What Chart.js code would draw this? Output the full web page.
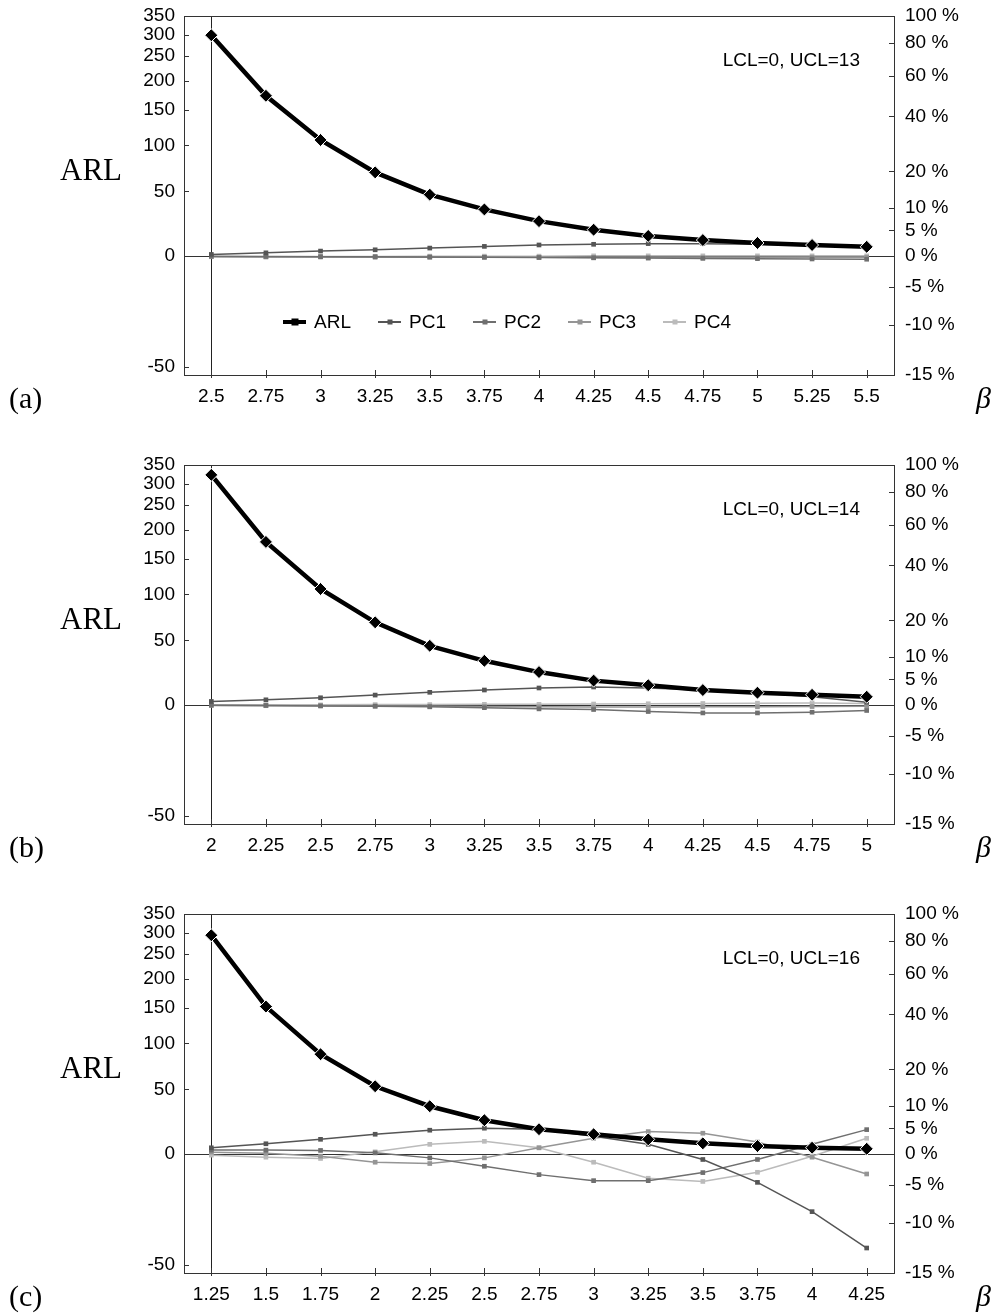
<!DOCTYPE html>
<html>
<head>
<meta charset="utf-8">
<script src="https://cdn.jsdelivr.net/npm/chart.js@4/dist/chart.umd.min.js"></script>
<style>
  body { margin:0; background:#fff; width:1000px; height:1316px; overflow:hidden; position:relative; font-family:"Liberation Sans", Arial, sans-serif; color:#000; }
  .panel { position:absolute; left:0; width:1000px; height:418px; }
  .panel canvas { position:absolute; left:0; top:0; }
  .arl { position:absolute; left:60px; top:152px; font:31px "Liberation Serif", serif; }
  .tag { position:absolute; left:9px; top:381px; font:30px "Liberation Serif", serif; }
  .beta { position:absolute; left:976px; top:381px; font:italic 30px "Liberation Serif", serif; }
  .lcl { position:absolute; right:140px; top:49px; font-size:19px; }
  .legend { position:absolute; left:283px; top:311px; display:flex; font-size:19px; line-height:22px; }
  .legend .item { width:95px; display:flex; align-items:center; }
  .legend .sample { position:relative; width:23px; height:22px; margin-right:8px; }
  .legend .sample i { position:absolute; left:0; right:0; top:50%; }
  .legend .sample b { position:absolute; left:50%; top:50%; transform:translate(-50%,-50%); }
</style>
</head>
<body>
<div class="panel" style="top:0px">
  <canvas id="chartA" width="1000" height="418"></canvas>
  <div class="arl">ARL</div><div class="tag">(a)</div><div class="beta">β</div>
  <div class="lcl">LCL=0, UCL=13</div>
  <div class="legend" id="legendA"></div>
</div>
<div class="panel" style="top:449px">
  <canvas id="chartB" width="1000" height="418"></canvas>
  <div class="arl">ARL</div><div class="tag">(b)</div><div class="beta">β</div>
  <div class="lcl">LCL=0, UCL=14</div>
</div>
<div class="panel" style="top:898px">
  <canvas id="chartC" width="1000" height="418"></canvas>
  <div class="arl">ARL</div><div class="tag">(c)</div><div class="beta">β</div>
  <div class="lcl">LCL=0, UCL=16</div>
</div>
<script>
// values
const betaA = ['2.5','2.75','3','3.25','3.5','3.75','4','4.25','4.5','4.75','5','5.25','5.5'];
const arlA = [299, 173, 107, 69, 47, 34, 24.5, 18, 13.5, 10.6, 8.6, 7.2, 6];
const pc1A = [0.31, 0.6, 0.92, 1.16, 1.48, 1.8, 2.07, 2.2, 2.33, 2.33, 2.2, 2.0, 1.75];
const pc2A = [0, -0.05, -0.1, -0.1, -0.15, -0.2, -0.25, -0.3, -0.35, -0.4, -0.45, -0.5, -0.55];
const pc3A = [-0.1, -0.15, -0.15, -0.2, -0.2, -0.2, -0.2, -0.25, -0.25, -0.25, -0.25, -0.2, -0.2];
const pc4A = [-0.1, -0.1, -0.05, -0.05, 0, 0, 0, 0.05, 0.05, 0.05, 0.05, 0.05, 0.05];

const betaB = ['2','2.25','2.5','2.75','3','3.25','3.5','3.75','4','4.25','4.5','4.75','5'];
const arlB = [323, 178, 107, 68, 45, 32, 23, 16.6, 13.3, 9.9, 8.1, 6.7, 5.4];
const pc1B = [0.67, 0.97, 1.35, 1.86, 2.39, 2.84, 3.24, 3.44, 3.24, 2.84, 2.31, 1.53, 0.54];
const pc2B = [0, -0.05, -0.15, -0.2, -0.3, -0.45, -0.66, -0.77, -1.12, -1.36, -1.36, -1.24, -0.94];
const pc3B = [-0.05, -0.1, -0.1, -0.15, -0.2, -0.25, -0.3, -0.35, -0.35, -0.3, -0.3, -0.25, -0.2];
const pc4B = [0.05, 0.05, 0.05, 0.1, 0.1, 0.15, 0.15, 0.2, 0.25, 0.3, 0.35, 0.4, 0.3];

const betaC = ['1.25','1.5','1.75','2','2.25','2.5','2.75','3','3.25','3.5','3.75','4','4.25'];
const arlC = [294, 152, 87, 53, 35, 23.7, 16.9, 13.3, 9.7, 7.0, 5.2, 4.1, 3.4];
const pc1C = [1.16, 1.92, 2.78, 3.79, 4.62, 5.04, 4.83, 3.4, 1.81, -0.94, -4.63, -8.64, -12.7];
const pc2C = [0.73, 0.73, 0.67, 0.23, -0.66, -2.09, -3.44, -4.37, -4.37, -3.12, -0.94, 1.81, 4.74];
const pc3C = [0.36, 0.18, -0.36, -1.41, -1.63, -0.66, 1.16, 2.98, 4.33, 4.0, 2.25, -0.54, -3.34];
const pc4C = [-0.18, -0.54, -0.77, 0.42, 1.81, 2.39, 1.16, -1.41, -4.0, -4.49, -3.07, -0.36, 2.98];

// axis ticks
const arlTicks = [-50, 0, 50, 100, 150, 200, 250, 300, 350];
const pctTicks = [-15, -10, -5, 0, 5, 10, 20, 40, 60, 80, 100];

const seriesNames = ['ARL', 'PC1', 'PC2', 'PC3', 'PC4'];
const seriesColors = ['#000000', '#555555', '#6f6f6f', '#959595', '#bbbbbb'];

// log(v + shift) axis, the way the original plots ARL and % on one frame
class ShiftLogScale extends Chart.Scale {
  determineDataLimits() {
    this.min = this.options.min;
    this.max = this.options.max;
  }
  buildTicks() { return []; }
  getLabelForValue(v) { return String(v); }
  configure() {
    super.configure();
    const s = this.options.shift;
    this._lo = Math.log(this.min + s);
    this._hi = Math.log(this.max + s);
  }
  getPixelForValue(v) {
    const s = this.options.shift;
    return this.getPixelForDecimal((Math.log(v + s) - this._lo) / (this._hi - this._lo));
  }
  getValueForPixel(p) {
    const d = this.getDecimalForPixel(p);
    return Math.exp(this._lo + d * (this._hi - this._lo)) - this.options.shift;
  }
}
ShiftLogScale.id = 'shiftlog';
ShiftLogScale.defaults = {};
Chart.register(ShiftLogScale);

Chart.defaults.font.family = '"Liberation Sans", Arial, sans-serif';
Chart.defaults.font.size = 19;
Chart.defaults.color = '#000';

// frame + short inward tick marks
const framePlugin = {
  id: 'frame',
  afterDatasetsDraw(chart) {
    const {ctx, chartArea: a, scales} = chart;
    ctx.save();
    ctx.strokeStyle = '#333';
    ctx.lineWidth = 1;
    ctx.strokeRect(a.left + 0.5, a.top + 0.5, a.right - a.left, a.bottom - a.top);
    ctx.beginPath();
    scales.yL.ticks.forEach((t, i) => {
      const y = Math.round(scales.yL.getPixelForTick(i)) + 0.5;
      ctx.moveTo(a.left, y); ctx.lineTo(a.left + 5, y);
    });
    scales.yR.ticks.forEach((t, i) => {
      const y = Math.round(scales.yR.getPixelForTick(i)) + 0.5;
      ctx.moveTo(a.right - 5, y); ctx.lineTo(a.right, y);
    });
    scales.x.ticks.forEach((t, i) => {
      const x = Math.round(scales.x.getPixelForTick(i)) + 0.5;
      ctx.moveTo(x, a.bottom - 5); ctx.lineTo(x, a.bottom + 3);
    });
    ctx.stroke();
    ctx.restore();
  }
};

// fixed box sizes so every panel gets the same plot frame
function fixWidth(w) {
  return s => { s.width = w; s.paddingTop = 0; s.paddingBottom = 0; };
}

function makeChart(id, labels, arl, pc1, pc2, pc3, pc4) {
  const pcs = [pc1, pc2, pc3, pc4];
  const datasets = [{
    label: 'ARL', data: arl, yAxisID: 'yL', order: 0,
    borderColor: '#000', borderWidth: 4.5,
    pointStyle: 'rectRot', pointRadius: 6.5, pointBackgroundColor: '#000',
    pointBorderColor: '#fff', pointBorderWidth: 1
  }];
  pcs.forEach((d, k) => {
    datasets.push({
      label: seriesNames[k + 1], data: d, yAxisID: 'yR', order: 1 + k,
      borderColor: seriesColors[k + 1], borderWidth: 1.5,
      pointStyle: 'rect', pointRadius: 3.3,
      pointBackgroundColor: seriesColors[k + 1], pointBorderWidth: 0
    });
  });
  return new Chart(document.getElementById(id), {
    type: 'line',
    data: { labels, datasets },
    options: {
      responsive: false,
      animation: false,
      devicePixelRatio: 1,
      layout: { padding: { top: 16, left: 0, right: 0, bottom: 0 } },
      plugins: { legend: { display: false }, tooltip: { enabled: false } },
      elements: { line: { tension: 0 } },
      scales: {
        x: {
          type: 'category', offset: true,
          grid: { offset: false, drawTicks: false, lineWidth: 1,
                  color: c => c.index === 0 ? '#222' : 'rgba(0,0,0,0)' },
          border: { display: false },
          ticks: { padding: 10, autoSkip: false, maxRotation: 0 },
          afterFit: s => { s.height = 43; s.paddingLeft = 0; s.paddingRight = 0; }
        },
        yL: {
          type: 'shiftlog', position: 'left', min: -52.5, max: 350, shift: 100,
          afterBuildTicks: s => { s.ticks = arlTicks.map(v => ({ value: v })); },
          grid: { drawTicks: false, lineWidth: 1,
                  color: c => (c.tick && c.tick.value === 0) ? '#333' : 'rgba(0,0,0,0)' },
          border: { display: false },
          ticks: { padding: 9, autoSkip: false, callback: v => String(v) },
          afterFit: fixWidth(184)
        },
        yR: {
          type: 'shiftlog', position: 'right', min: -15, max: 100, shift: 100 / 3.5,
          afterBuildTicks: s => { s.ticks = pctTicks.map(v => ({ value: v })); },
          grid: { display: false, drawTicks: false },
          border: { display: false },
          ticks: { padding: 11, autoSkip: false, callback: v => v + ' %' },
          afterFit: fixWidth(106)
        }
      }
    },
    plugins: [framePlugin]
  });
}

makeChart('chartA', betaA, arlA, pc1A, pc2A, pc3A, pc4A);
makeChart('chartB', betaB, arlB, pc1B, pc2B, pc3B, pc4B);
makeChart('chartC', betaC, arlC, pc1C, pc2C, pc3C, pc4C);

// legend inside panel (a)
const legendA = document.getElementById('legendA');
seriesNames.forEach((name, k) => {
  const item = document.createElement('div');
  item.className = 'item';
  const sample = document.createElement('span');
  sample.className = 'sample';
  const line = document.createElement('i');
  line.style.borderTop = (k === 0 ? 4 : 2) + 'px solid ' + seriesColors[k];
  line.style.marginTop = (k === 0 ? -2 : -1) + 'px';
  const mark = document.createElement('b');
  mark.style.width = mark.style.height = (k === 0 ? 7 : 5) + 'px';
  mark.style.background = k === 0 ? '#000' : seriesColors[k];
  sample.appendChild(line);
  sample.appendChild(mark);
  item.appendChild(sample);
  item.appendChild(document.createTextNode(name));
  legendA.appendChild(item);
});
</script>
</body>
</html>
